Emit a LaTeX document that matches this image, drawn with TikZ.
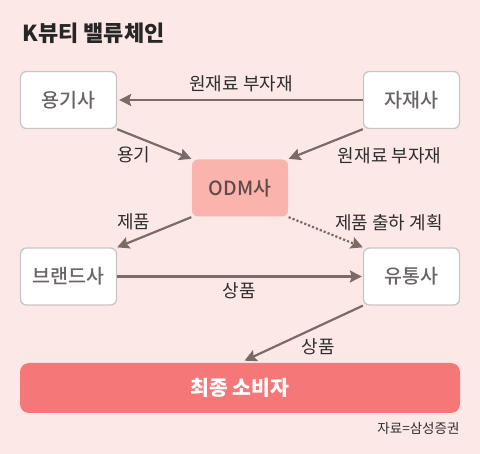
\documentclass[tikz,border=0pt]{standalone}
\usepackage{fontspec}
\setmainfont{Noto Sans CJK KR}
\newfontfamily\mediumfont{Noto Sans CJK KR Medium}
\usepackage{xcolor}
\usetikzlibrary{arrows.meta}
\definecolor{bgpink}{HTML}{FDE8E8}
\definecolor{odmfill}{HTML}{FBB3AE}
\definecolor{userfill}{HTML}{F67777}
\definecolor{flowgray}{HTML}{7B6B66}
\definecolor{boxline}{HTML}{C9C6C6}
\definecolor{boxtext}{HTML}{6A6464}
\definecolor{odmtext}{HTML}{5E4B48}
\definecolor{labeltext}{HTML}{2E2E2E}
\tikzset{
  % --- company boxes ---
  firm/.style={draw=boxline, line width=1.3pt, fill=white, rounded corners=6pt,
               minimum width=96pt, minimum height=57pt, inner sep=0pt,
               font=\mediumfont\fontsize{19.5}{21}\selectfont, text=boxtext},
  odm/.style={firm, draw=none, fill=odmfill, text=odmtext},
  user/.style={fill=userfill, rounded corners=9pt, minimum width=440pt,
               minimum height=50pt, inner sep=0pt, text=white,
               font=\fontsize{20.5}{22}\selectfont\bfseries},
  % --- flows and their labels ---
  flow/.style={line width=2.2pt, draw=flowgray,
               -{Stealth[length=12pt,width=12pt,inset=2pt]}},
  plan/.style={flow, dotted, line cap=butt},
  flowlabel/.style={font=\fontsize{18}{20}\selectfont, text=labeltext,
                    inner sep=2pt},
}
\begin{document}
\begin{tikzpicture}[x=1pt, y=-1pt]
  \fill[bgpink] (0,0) rectangle (480,454);
  \useasboundingbox (0,0) rectangle (480,454);

  % --- title and source ---
  \node[anchor=west, font=\fontsize{22}{24}\selectfont\bfseries, text=black!85]
       (title) at (19,33) {K뷰티 밸류체인};
  \node[anchor=east, font=\fontsize{13.5}{15}\selectfont, text=labeltext]
       (src) at (463,428) {자료=삼성증권};

  % --- companies ---
  \node[firm] (yong)  at (68.5,100)   {용기사};
  \node[firm] (jajae) at (411.5,100)  {자재사};
  \node[odm]  (odmco) at (240,188)    {ODM사};
  \node[firm] (brand) at (68.5,276.5) {브랜드사};
  \node[firm] (dist)  at (411.5,276.5){유통사};
  \node[user] (buyer) at (240,388)    {최종 소비자};

  % --- supply into ODM ---
  \draw[flow] (jajae.west) -- node[flowlabel, above, yshift=5pt]{원재료 부자재}
        ([xshift=2pt]yong.east);
  \draw[flow] (yong.south east) -- node[flowlabel, pos=0.3, below left,
        xshift=14pt, yshift=-5pt]{용기} (odmco.north west);
  \draw[flow] (jajae.south west) -- node[flowlabel, pos=0.35, below right,
        xshift=-2pt, yshift=-5pt]{원재료 부자재} (odmco.north east);

  % --- ODM out ---
  \draw[flow] (odmco.south west) -- node[flowlabel, pos=0.7, above left,
        xshift=14pt, yshift=5pt]{제품} (brand.north east);
  \draw[plan] (odmco.south east) -- node[flowlabel, pos=0.6, above right,
        xshift=-1pt, yshift=1pt]{제품 출하 계획} (dist.north west);

  % --- to market ---
  \draw[flow] (brand.east) -- node[flowlabel, below, yshift=-3pt]{상품}
        ([xshift=-1pt]dist.west);
  \draw[flow, shorten >=5pt] (dist.south west) -- node[flowlabel, pos=0.5,
        below right, xshift=-3pt, yshift=-1pt]{상품} (buyer.north);
\end{tikzpicture}
\end{document}
